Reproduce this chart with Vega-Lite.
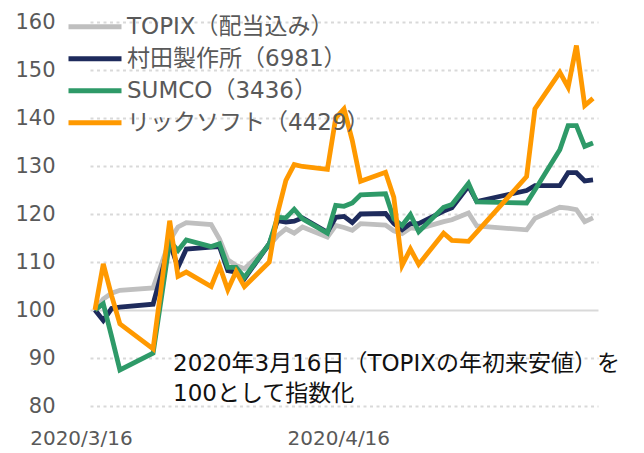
{
  "$schema": "https://vega.github.io/schema/vega-lite/v6.json",
  "width": 508,
  "height": 384,
  "autosize": {"type": "none"},
  "padding": {"left": 90, "top": 22, "right": 46, "bottom": 47},
  "background": "white",
  "config": {
    "view": {"stroke": null},
    "font": "DejaVu Sans, Noto Sans CJK JP",
    "axis": {"labelFont": "DejaVu Sans, Noto Sans CJK JP", "labelFontSize": 20, "labelColor": "#595959"}
  },
  "datasets": {
    "series": [
      {"date": "2020-03-16", "name": "TOPIX（配当込み）", "value": 100},
      {"date": "2020-03-17", "name": "TOPIX（配当込み）", "value": 102.3},
      {"date": "2020-03-18", "name": "TOPIX（配当込み）", "value": 103.5},
      {"date": "2020-03-19", "name": "TOPIX（配当込み）", "value": 104.1},
      {"date": "2020-03-23", "name": "TOPIX（配当込み）", "value": 104.6},
      {"date": "2020-03-24", "name": "TOPIX（配当込み）", "value": 109.5},
      {"date": "2020-03-25", "name": "TOPIX（配当込み）", "value": 114.5},
      {"date": "2020-03-26", "name": "TOPIX（配当込み）", "value": 117.3},
      {"date": "2020-03-27", "name": "TOPIX（配当込み）", "value": 118.2},
      {"date": "2020-03-30", "name": "TOPIX（配当込み）", "value": 117.8},
      {"date": "2020-03-31", "name": "TOPIX（配当込み）", "value": 114.8},
      {"date": "2020-04-01", "name": "TOPIX（配当込み）", "value": 110.5},
      {"date": "2020-04-02", "name": "TOPIX（配当込み）", "value": 109.3},
      {"date": "2020-04-03", "name": "TOPIX（配当込み）", "value": 108.6},
      {"date": "2020-04-06", "name": "TOPIX（配当込み）", "value": 113.4},
      {"date": "2020-04-07", "name": "TOPIX（配当込み）", "value": 115.5},
      {"date": "2020-04-08", "name": "TOPIX（配当込み）", "value": 116.9},
      {"date": "2020-04-09", "name": "TOPIX（配当込み）", "value": 116.0},
      {"date": "2020-04-10", "name": "TOPIX（配当込み）", "value": 117.3},
      {"date": "2020-04-13", "name": "TOPIX（配当込み）", "value": 115.2},
      {"date": "2020-04-14", "name": "TOPIX（配当込み）", "value": 117.6},
      {"date": "2020-04-15", "name": "TOPIX（配当込み）", "value": 117.2},
      {"date": "2020-04-16", "name": "TOPIX（配当込み）", "value": 116.6},
      {"date": "2020-04-17", "name": "TOPIX（配当込み）", "value": 118.0},
      {"date": "2020-04-20", "name": "TOPIX（配当込み）", "value": 117.7},
      {"date": "2020-04-21", "name": "TOPIX（配当込み）", "value": 116.5},
      {"date": "2020-04-22", "name": "TOPIX（配当込み）", "value": 115.9},
      {"date": "2020-04-23", "name": "TOPIX（配当込み）", "value": 117.1},
      {"date": "2020-04-24", "name": "TOPIX（配当込み）", "value": 116.9},
      {"date": "2020-04-27", "name": "TOPIX（配当込み）", "value": 118.4},
      {"date": "2020-04-28", "name": "TOPIX（配当込み）", "value": 118.8},
      {"date": "2020-04-30", "name": "TOPIX（配当込み）", "value": 120.2},
      {"date": "2020-05-01", "name": "TOPIX（配当込み）", "value": 117.5},
      {"date": "2020-05-07", "name": "TOPIX（配当込み）", "value": 116.7},
      {"date": "2020-05-08", "name": "TOPIX（配当込み）", "value": 119.1},
      {"date": "2020-05-11", "name": "TOPIX（配当込み）", "value": 121.4},
      {"date": "2020-05-12", "name": "TOPIX（配当込み）", "value": 121.2},
      {"date": "2020-05-13", "name": "TOPIX（配当込み）", "value": 120.9},
      {"date": "2020-05-14", "name": "TOPIX（配当込み）", "value": 118.4},
      {"date": "2020-05-15", "name": "TOPIX（配当込み）", "value": 119.2},

      {"date": "2020-03-16", "name": "村田製作所（6981）", "value": 100},
      {"date": "2020-03-17", "name": "村田製作所（6981）", "value": 97.8},
      {"date": "2020-03-18", "name": "村田製作所（6981）", "value": 100.3},
      {"date": "2020-03-19", "name": "村田製作所（6981）", "value": 100.6},
      {"date": "2020-03-23", "name": "村田製作所（6981）", "value": 101.2},
      {"date": "2020-03-24", "name": "村田製作所（6981）", "value": 107.5},
      {"date": "2020-03-25", "name": "村田製作所（6981）", "value": 114.0},
      {"date": "2020-03-26", "name": "村田製作所（6981）", "value": 108.9},
      {"date": "2020-03-27", "name": "村田製作所（6981）", "value": 112.7},
      {"date": "2020-03-30", "name": "村田製作所（6981）", "value": 113.1},
      {"date": "2020-03-31", "name": "村田製作所（6981）", "value": 113.2},
      {"date": "2020-04-01", "name": "村田製作所（6981）", "value": 108.2},
      {"date": "2020-04-02", "name": "村田製作所（6981）", "value": 107.9},
      {"date": "2020-04-03", "name": "村田製作所（6981）", "value": 106.5},
      {"date": "2020-04-06", "name": "村田製作所（6981）", "value": 113.8},
      {"date": "2020-04-07", "name": "村田製作所（6981）", "value": 118.6},
      {"date": "2020-04-08", "name": "村田製作所（6981）", "value": 118.3},
      {"date": "2020-04-09", "name": "村田製作所（6981）", "value": 118.5},
      {"date": "2020-04-10", "name": "村田製作所（6981）", "value": 119.2},
      {"date": "2020-04-13", "name": "村田製作所（6981）", "value": 116.2},
      {"date": "2020-04-14", "name": "村田製作所（6981）", "value": 119.3},
      {"date": "2020-04-15", "name": "村田製作所（6981）", "value": 119.5},
      {"date": "2020-04-16", "name": "村田製作所（6981）", "value": 118.2},
      {"date": "2020-04-17", "name": "村田製作所（6981）", "value": 120.0},
      {"date": "2020-04-20", "name": "村田製作所（6981）", "value": 120.1},
      {"date": "2020-04-21", "name": "村田製作所（6981）", "value": 118.0},
      {"date": "2020-04-22", "name": "村田製作所（6981）", "value": 116.7},
      {"date": "2020-04-23", "name": "村田製作所（6981）", "value": 118.0},
      {"date": "2020-04-24", "name": "村田製作所（6981）", "value": 118.0},
      {"date": "2020-04-27", "name": "村田製作所（6981）", "value": 120.6},
      {"date": "2020-04-28", "name": "村田製作所（6981）", "value": 121.3},
      {"date": "2020-04-30", "name": "村田製作所（6981）", "value": 125.8},
      {"date": "2020-05-01", "name": "村田製作所（6981）", "value": 122.6},
      {"date": "2020-05-07", "name": "村田製作所（6981）", "value": 124.9},
      {"date": "2020-05-08", "name": "村田製作所（6981）", "value": 125.9},
      {"date": "2020-05-11", "name": "村田製作所（6981）", "value": 125.9},
      {"date": "2020-05-12", "name": "村田製作所（6981）", "value": 128.6},
      {"date": "2020-05-13", "name": "村田製作所（6981）", "value": 128.6},
      {"date": "2020-05-14", "name": "村田製作所（6981）", "value": 126.9},
      {"date": "2020-05-15", "name": "村田製作所（6981）", "value": 127.1},

      {"date": "2020-03-16", "name": "SUMCO（3436）", "value": 100},
      {"date": "2020-03-17", "name": "SUMCO（3436）", "value": 101.3},
      {"date": "2020-03-18", "name": "SUMCO（3436）", "value": 94.5},
      {"date": "2020-03-19", "name": "SUMCO（3436）", "value": 87.5},
      {"date": "2020-03-23", "name": "SUMCO（3436）", "value": 91.0},
      {"date": "2020-03-24", "name": "SUMCO（3436）", "value": 102.5},
      {"date": "2020-03-25", "name": "SUMCO（3436）", "value": 114.3},
      {"date": "2020-03-26", "name": "SUMCO（3436）", "value": 112.4},
      {"date": "2020-03-27", "name": "SUMCO（3436）", "value": 114.6},
      {"date": "2020-03-30", "name": "SUMCO（3436）", "value": 113.2},
      {"date": "2020-03-31", "name": "SUMCO（3436）", "value": 113.8},
      {"date": "2020-04-01", "name": "SUMCO（3436）", "value": 108.9},
      {"date": "2020-04-02", "name": "SUMCO（3436）", "value": 108.9},
      {"date": "2020-04-03", "name": "SUMCO（3436）", "value": 106.8},
      {"date": "2020-04-06", "name": "SUMCO（3436）", "value": 113.8},
      {"date": "2020-04-07", "name": "SUMCO（3436）", "value": 119.3},
      {"date": "2020-04-08", "name": "SUMCO（3436）", "value": 119.2},
      {"date": "2020-04-09", "name": "SUMCO（3436）", "value": 121.0},
      {"date": "2020-04-10", "name": "SUMCO（3436）", "value": 119.0},
      {"date": "2020-04-13", "name": "SUMCO（3436）", "value": 116.0},
      {"date": "2020-04-14", "name": "SUMCO（3436）", "value": 121.8},
      {"date": "2020-04-15", "name": "SUMCO（3436）", "value": 121.6},
      {"date": "2020-04-16", "name": "SUMCO（3436）", "value": 122.3},
      {"date": "2020-04-17", "name": "SUMCO（3436）", "value": 124.0},
      {"date": "2020-04-20", "name": "SUMCO（3436）", "value": 124.2},
      {"date": "2020-04-21", "name": "SUMCO（3436）", "value": 119.0},
      {"date": "2020-04-22", "name": "SUMCO（3436）", "value": 117.6},
      {"date": "2020-04-23", "name": "SUMCO（3436）", "value": 119.9},
      {"date": "2020-04-24", "name": "SUMCO（3436）", "value": 116.3},
      {"date": "2020-04-27", "name": "SUMCO（3436）", "value": 121.4},
      {"date": "2020-04-28", "name": "SUMCO（3436）", "value": 122.0},
      {"date": "2020-04-30", "name": "SUMCO（3436）", "value": 126.4},
      {"date": "2020-05-01", "name": "SUMCO（3436）", "value": 122.5},
      {"date": "2020-05-07", "name": "SUMCO（3436）", "value": 122.3},
      {"date": "2020-05-08", "name": "SUMCO（3436）", "value": 125.0},
      {"date": "2020-05-11", "name": "SUMCO（3436）", "value": 133.4},
      {"date": "2020-05-12", "name": "SUMCO（3436）", "value": 138.4},
      {"date": "2020-05-13", "name": "SUMCO（3436）", "value": 138.4},
      {"date": "2020-05-14", "name": "SUMCO（3436）", "value": 134.1},
      {"date": "2020-05-15", "name": "SUMCO（3436）", "value": 134.8},

      {"date": "2020-03-16", "name": "リックソフト（4429）", "value": 100},
      {"date": "2020-03-17", "name": "リックソフト（4429）", "value": 109.6},
      {"date": "2020-03-18", "name": "リックソフト（4429）", "value": 103.0},
      {"date": "2020-03-19", "name": "リックソフト（4429）", "value": 97.1},
      {"date": "2020-03-23", "name": "リックソフト（4429）", "value": 91.9},
      {"date": "2020-03-24", "name": "リックソフト（4429）", "value": 105.0},
      {"date": "2020-03-25", "name": "リックソフト（4429）", "value": 118.6},
      {"date": "2020-03-26", "name": "リックソフト（4429）", "value": 107.0},
      {"date": "2020-03-27", "name": "リックソフト（4429）", "value": 107.9},
      {"date": "2020-03-30", "name": "リックソフト（4429）", "value": 104.9},
      {"date": "2020-03-31", "name": "リックソフト（4429）", "value": 109.2},
      {"date": "2020-04-01", "name": "リックソフト（4429）", "value": 104.2},
      {"date": "2020-04-02", "name": "リックソフト（4429）", "value": 108.0},
      {"date": "2020-04-03", "name": "リックソフト（4429）", "value": 104.9},
      {"date": "2020-04-06", "name": "リックソフト（4429）", "value": 110.0},
      {"date": "2020-04-07", "name": "リックソフト（4429）", "value": 120.2},
      {"date": "2020-04-08", "name": "リックソフト（4429）", "value": 127.0},
      {"date": "2020-04-09", "name": "リックソフト（4429）", "value": 130.3},
      {"date": "2020-04-10", "name": "リックソフト（4429）", "value": 129.9},
      {"date": "2020-04-13", "name": "リックソフト（4429）", "value": 129.3},
      {"date": "2020-04-14", "name": "リックソフト（4429）", "value": 140.0},
      {"date": "2020-04-15", "name": "リックソフト（4429）", "value": 141.9},
      {"date": "2020-04-16", "name": "リックソフト（4429）", "value": 135.3},
      {"date": "2020-04-17", "name": "リックソフト（4429）", "value": 126.8},
      {"date": "2020-04-20", "name": "リックソフト（4429）", "value": 128.7},
      {"date": "2020-04-21", "name": "リックソフト（4429）", "value": 123.5},
      {"date": "2020-04-22", "name": "リックソフト（4429）", "value": 109.3},
      {"date": "2020-04-23", "name": "リックソフト（4429）", "value": 112.7},
      {"date": "2020-04-24", "name": "リックソフト（4429）", "value": 109.5},
      {"date": "2020-04-27", "name": "リックソフト（4429）", "value": 116.0},
      {"date": "2020-04-28", "name": "リックソフト（4429）", "value": 114.5},
      {"date": "2020-04-30", "name": "リックソフト（4429）", "value": 114.3},
      {"date": "2020-05-01", "name": "リックソフト（4429）", "value": 116.2},
      {"date": "2020-05-07", "name": "リックソフト（4429）", "value": 127.8},
      {"date": "2020-05-08", "name": "リックソフト（4429）", "value": 141.9},
      {"date": "2020-05-11", "name": "リックソフト（4429）", "value": 149.5},
      {"date": "2020-05-12", "name": "リックソフト（4429）", "value": 146.4},
      {"date": "2020-05-13", "name": "リックソフト（4429）", "value": 155.1},
      {"date": "2020-05-14", "name": "リックソフト（4429）", "value": 142.6},
      {"date": "2020-05-15", "name": "リックソフト（4429）", "value": 144.1}
    ],
    "note": [
      {"date": "2020-03-25T09:36:00Z", "value": 91.1, "label": "2020年3月16日（TOPIXの年初来安値）を\n100として指数化"}
    ]
  },
  "layer": [
    {
      "data": {"name": "series"},
      "mark": {"type": "line", "strokeWidth": 4.8, "clip": false},
      "encoding": {
        "x": {
          "field": "date", "type": "temporal",
          "scale": {"type": "utc", "domain": [
            {"year": 2020, "month": 3, "date": 15, "hours": 9, "minutes": 36, "utc": true},
            {"year": 2020, "month": 5, "date": 15, "hours": 14, "minutes": 24, "utc": true}
          ]},
          "axis": {
            "title": null, "grid": false, "domain": false, "ticks": false, "tickSize": 0,
            "values": [
              {"year": 2020, "month": 3, "date": 16, "utc": true},
              {"year": 2020, "month": 4, "date": 16, "utc": true}
            ],
            "format": "%Y/%-m/%-d", "labelPadding": 22, "labelOffset": -14, "labelFlush": false
          }
        },
        "y": {
          "field": "value", "type": "quantitative",
          "scale": {"domain": [80, 160], "nice": false, "zero": false},
          "axis": {
            "title": null, "domain": false, "ticks": false, "tickSize": 0,
            "values": [80, 90, 100, 110, 120, 130, 140, 150, 160],
            "labelPadding": 35, "labelFontSize": 21, "grid": true,
            "gridColor": "#D9D9D9", "gridWidth": 2.2,
            "gridDash": {"condition": {"test": "datum.value === 100", "value": []}, "value": [3, 3.5]}
          }
        },
        "color": {
          "field": "name", "type": "nominal",
          "scale": {
            "domain": ["TOPIX（配当込み）", "村田製作所（6981）", "SUMCO（3436）", "リックソフト（4429）"],
            "range": ["#BFBFBF", "#1E2B5C", "#2E9A68", "#FF9900"]
          },
          "legend": {
            "title": null, "orient": "none", "legendX": -24, "legendY": -11,
            "symbolType": "stroke", "symbolSize": 2809, "symbolStrokeWidth": 5,
            "labelFont": "DejaVu Sans, Noto Sans CJK JP",
            "labelFontSize": 23, "labelColor": "#595959", "labelOffset": 3,
            "clipHeight": 31.3, "rowPadding": 0, "padding": 0, "labelLimit": 400
          }
        }
      }
    },
    {
      "data": {"name": "note"},
      "mark": {"type": "text", "align": "left", "baseline": "top", "fontSize": 23, "color": "#111111", "lineBreak": "\n", "lineHeight": 30, "font": "DejaVu Sans, Noto Sans CJK JP"},
      "encoding": {
        "x": {"field": "date", "type": "temporal"},
        "y": {"field": "value", "type": "quantitative"},
        "text": {"field": "label", "type": "nominal"}
      }
    }
  ]
}
